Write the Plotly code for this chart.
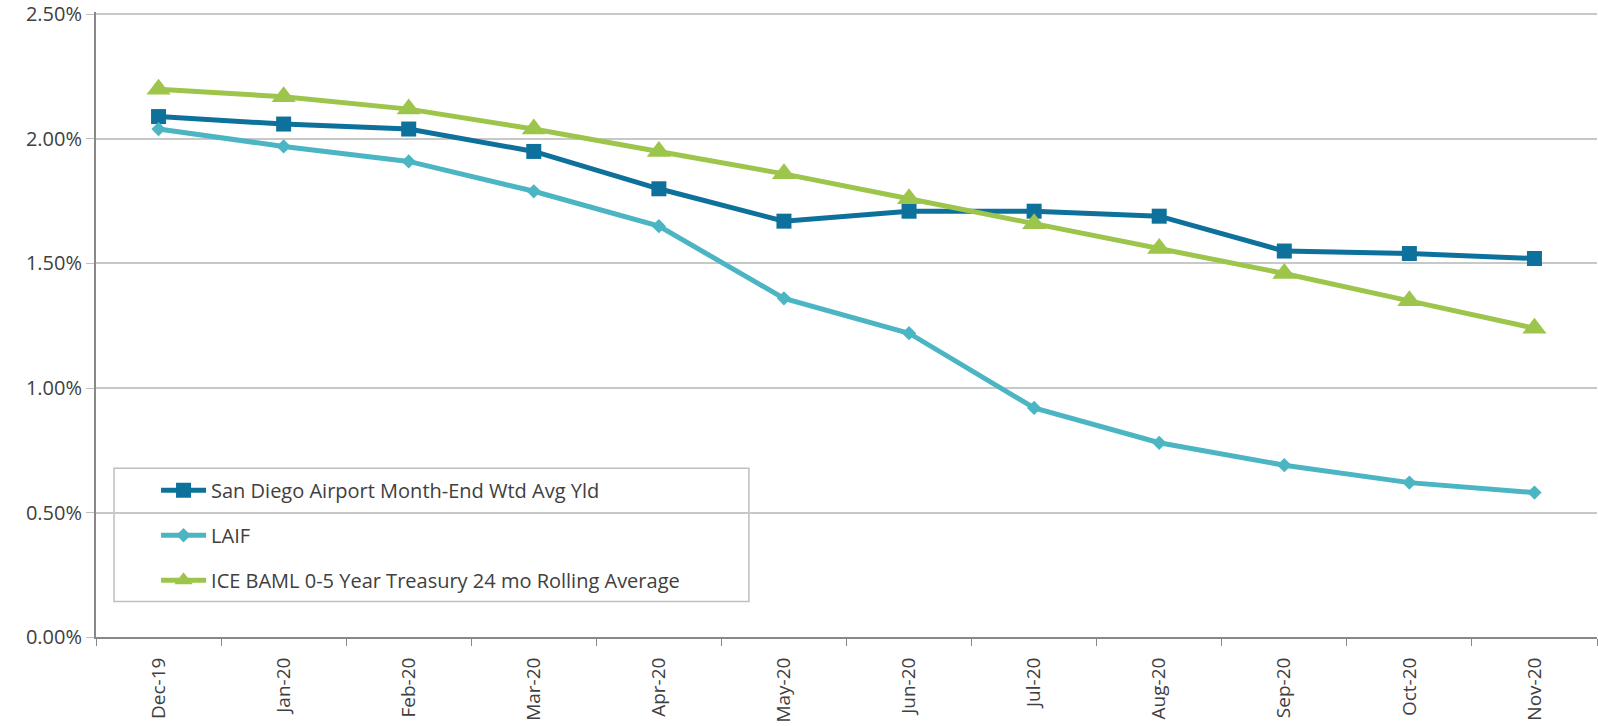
import plotly.graph_objects as go

months = ["Dec-19", "Jan-20", "Feb-20", "Mar-20", "Apr-20", "May-20",
          "Jun-20", "Jul-20", "Aug-20", "Sep-20", "Oct-20", "Nov-20"]
san_diego = [2.09, 2.06, 2.04, 1.95, 1.80, 1.67, 1.71, 1.71, 1.69, 1.55, 1.54, 1.52]
laif = [2.04, 1.97, 1.91, 1.79, 1.65, 1.36, 1.22, 0.92, 0.78, 0.69, 0.62, 0.58]
ice_baml = [2.20, 2.17, 2.12, 2.04, 1.95, 1.86, 1.76, 1.66, 1.56, 1.46, 1.35, 1.24]
y_ticks = [0.0, 0.5, 1.0, 1.5, 2.0, 2.5]
y_tick_labels = [f"{v:.2f}%" for v in y_ticks]

FONT = "Open Sans"
TXT = "#404040"
fig = go.Figure()
fig.add_trace(go.Scatter(
    x=months, y=san_diego, name="San Diego Airport Month-End Wtd Avg Yld",
    mode="lines+markers", legendgroup="a",
    line=dict(color="#0E719B", width=5),
    marker=dict(symbol="square", size=15, color="#0E719B")))
fig.add_trace(go.Scatter(
    x=months, y=laif, name="LAIF",
    mode="lines+markers", legendgroup="b",
    line=dict(color="#4BB5C3", width=5),
    marker=dict(symbol="diamond", size=11, color="#4BB5C3")))
fig.add_trace(go.Scatter(
    x=months, y=ice_baml, name="ICE BAML 0-5 Year Treasury 24 mo Rolling Average",
    mode="lines+markers", legendgroup="c",
    line=dict(color="#9DC54B", width=5),
    marker=dict(symbol="triangle-up", size=21, color="#9DC54B")))

# legend frame (wider than the legend's own box, as in the reference)
fig.add_shape(type="rect", xref="paper", yref="paper",
              x0=0.012, x1=0.435, y0=0.057, y1=0.270,
              line=dict(color="#BFBFBF", width=1.5), fillcolor="white", layer="below")

fig.update_layout(
    width=1598, height=726,
    margin=dict(l=96, r=1, t=12, b=89),
    paper_bgcolor="white", plot_bgcolor="white",
    font=dict(family=FONT, size=20, color=TXT),
    showlegend=True,
    legend=dict(x=0.040, y=0.266, xanchor="left", yanchor="top",
                borderwidth=0, bgcolor="rgba(0,0,0,0)",
                font=dict(family=FONT, size=20, color=TXT),
                tracegroupgap=16, itemwidth=45),
)
fig.update_xaxes(
    type="category", range=[-0.5, 11.5], tickson="boundaries", ticks="outside", ticklen=7,
    tickcolor="#888888", showline=True, linecolor="#888888", linewidth=2,
    tickangle=-90, showgrid=False, tickfont=dict(size=19, color=TXT),
    ticklabelstandoff=11, automargin=False,
)
fig.update_yaxes(
    range=[0, 2.51], tickvals=y_ticks, ticktext=y_tick_labels,
    ticks="outside", ticklen=8, tickcolor="#BFBFBF", ticklabeloverflow="allow",
    showline=True, linecolor="#888888", linewidth=2,
    showgrid=True, gridcolor="#C8C8C8", gridwidth=1.5, zeroline=False,
    tickfont=dict(size=20, color=TXT), automargin=False,
)
fig.write_html("out.html", config={"displayModeBar": False},
               post_script="document.body.style.margin='0';document.body.style.overflow='hidden';")
